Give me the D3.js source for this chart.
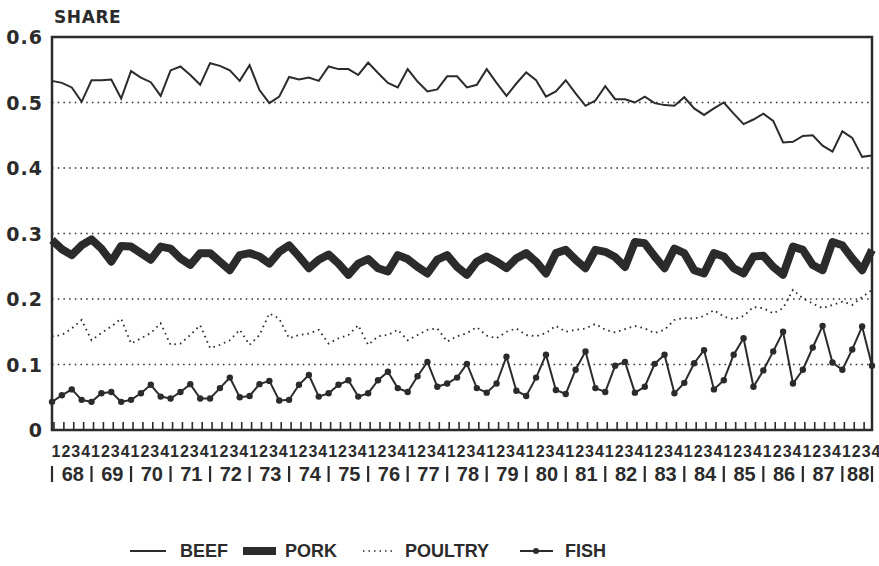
<!DOCTYPE html>
<html>
<head>
<meta charset="utf-8">
<script src="https://cdn.jsdelivr.net/npm/d3@7"></script>
<style>
  body { margin: 0; background: #fff; }
  text { font-family: "Liberation Sans", Arial, sans-serif; font-weight: bold; fill: #2b2b2b; }
  .wide { font-family: "DejaVu Sans", sans-serif; }
</style>
</head>
<body>
<div id="chart"></div>
<script>
// quarterly shares, 1968 Q1 .. 1988 Q4
var years = ["68","69","70","71","72","73","74","75","76","77","78","79","80","81","82","83","84","85","86","87","88"];
var quarters = ["1","2","3","4"];
var yTicks = [0, 0.1, 0.2, 0.3, 0.4, 0.5, 0.6];

var beef = [0.533,0.530,0.523,0.501, 0.534,0.534,0.535,0.506, 0.548,0.538,0.531,0.510,
  0.549,0.555,0.542,0.527, 0.560,0.556,0.549,0.533, 0.557,0.519,0.499,0.509,
  0.539,0.535,0.538,0.533, 0.555,0.551,0.551,0.542, 0.561,0.545,0.530,0.523,
  0.551,0.532,0.517,0.520, 0.540,0.540,0.523,0.527, 0.551,0.530,0.510,0.529,
  0.546,0.534,0.509,0.517, 0.534,0.514,0.495,0.503, 0.525,0.505,0.505,0.500,
  0.509,0.499,0.496,0.495, 0.508,0.491,0.481,0.491, 0.500,0.483,0.467,0.474,
  0.483,0.472,0.439,0.440, 0.449,0.450,0.434,0.425, 0.456,0.446,0.417,0.419];

var pork = [0.290,0.276,0.267,0.282, 0.291,0.277,0.257,0.281, 0.280,0.270,0.260,0.280,
  0.277,0.262,0.252,0.270, 0.270,0.257,0.244,0.267, 0.270,0.265,0.254,0.272,
  0.282,0.265,0.247,0.260, 0.268,0.254,0.237,0.254, 0.261,0.247,0.242,0.267,
  0.261,0.249,0.239,0.260, 0.267,0.249,0.237,0.257, 0.265,0.257,0.247,0.262,
  0.270,0.257,0.239,0.270, 0.275,0.260,0.247,0.275, 0.272,0.264,0.249,0.287,
  0.285,0.265,0.247,0.277, 0.270,0.244,0.239,0.270, 0.265,0.247,0.239,0.265,
  0.266,0.249,0.237,0.280, 0.275,0.252,0.244,0.287, 0.282,0.262,0.244,0.275];

var poultry = [0.143,0.145,0.155,0.168, 0.137,0.148,0.158,0.170, 0.132,0.140,0.148,0.163,
  0.130,0.132,0.145,0.160, 0.125,0.130,0.137,0.153, 0.130,0.145,0.178,0.170,
  0.140,0.145,0.147,0.153, 0.132,0.140,0.145,0.160, 0.130,0.143,0.145,0.153,
  0.137,0.145,0.153,0.155, 0.135,0.143,0.148,0.157, 0.144,0.140,0.150,0.155,
  0.145,0.143,0.148,0.159, 0.150,0.153,0.155,0.162, 0.153,0.149,0.154,0.159,
  0.155,0.148,0.153,0.168, 0.171,0.170,0.174,0.183, 0.173,0.169,0.174,0.188,
  0.186,0.178,0.186,0.214, 0.201,0.193,0.186,0.191, 0.196,0.191,0.203,0.214];

var fish = [0.043,0.053,0.062,0.046, 0.043,0.056,0.058,0.043, 0.046,0.056,0.069,0.051,
  0.048,0.058,0.070,0.048, 0.048,0.064,0.080,0.050, 0.052,0.070,0.075,0.045,
  0.046,0.069,0.084,0.051, 0.056,0.069,0.076,0.051, 0.056,0.076,0.089,0.064,
  0.058,0.082,0.104,0.066, 0.071,0.080,0.101,0.064, 0.057,0.071,0.112,0.060,
  0.052,0.080,0.115,0.061, 0.055,0.092,0.120,0.064, 0.058,0.098,0.104,0.057,
  0.066,0.101,0.115,0.056, 0.072,0.102,0.122,0.062, 0.076,0.115,0.140,0.066,
  0.091,0.120,0.150,0.071, 0.092,0.126,0.159,0.103, 0.092,0.123,0.158,0.098];

var ink = "#2b2b2b";
var w = 879, h = 566;
var plotL = 52, plotR = 872, plotT = 37, plotB = 430;

var svg = d3.select("#chart").append("svg")
  .attr("width", w)
  .attr("height", h);

var n = years.length * quarters.length;
var x = d3.scaleLinear().domain([0, n - 1]).range([plotL, plotR]);
var y = d3.scaleLinear().domain([0, 0.6]).range([plotB, plotT]);

// dotted grid
svg.append("g").selectAll("line")
  .data(yTicks.filter(d => d > 0 && d < 0.6))
  .enter().append("line")
  .attr("x1", plotL).attr("x2", plotR)
  .attr("y1", d => y(d)).attr("y2", d => y(d))
  .attr("stroke", ink).attr("stroke-width", 1.6)
  .attr("stroke-dasharray", "1.5,4.2");

// y labels
svg.append("g").selectAll("text")
  .data(yTicks)
  .enter().append("text")
  .attr("class", "wide")
  .attr("x", 43)
  .attr("y", d => y(d))
  .attr("dy", "0.37em")
  .attr("text-anchor", "end")
  .style("font-size", "19px")
  .style("letter-spacing", "1px")
  .text(d => d === 0 ? "0" : d3.format(".1f")(d));

svg.append("text")
  .attr("class", "wide")
  .attr("x", 54).attr("y", 23)
  .style("font-size", "17px")
  .style("letter-spacing", "0.6px")
  .text("SHARE");

// quarter ticks
svg.append("g").selectAll("line")
  .data(d3.range(n - 1))
  .enter().append("line")
  .attr("x1", d => x(d) + 2).attr("x2", d => x(d) + 2)
  .attr("y1", plotB).attr("y2", plotB - 8)
  .attr("stroke", ink).attr("stroke-width", 1.6);

// frame
svg.append("rect")
  .attr("x", plotL).attr("y", plotT)
  .attr("width", plotR - plotL).attr("height", plotB - plotT)
  .attr("fill", "none").attr("stroke", ink).attr("stroke-width", 2.5);

// quarter digits
var qlab = [];
years.forEach((yr, k) => quarters.forEach((q, j) => qlab.push({ i: k * 4 + j, q: q })));
svg.append("g").selectAll("text")
  .data(qlab)
  .enter().append("text")
  .attr("x", d => x(d.i) + 4)
  .attr("y", 457)
  .attr("text-anchor", "middle")
  .style("font-size", "16px")
  .text(d => d.q);

// year labels and separators
var yg = svg.append("g");
yg.selectAll("text")
  .data(years)
  .enter().append("text")
  .attr("x", (d, k) => (x(k * 4) + Math.min(x(k * 4 + 4), plotR)) / 2 + 1)
  .attr("y", 481)
  .attr("text-anchor", "middle")
  .style("font-size", "20px")
  .text(d => d);
yg.selectAll("line")
  .data(d3.range(years.length + 1))
  .enter().append("line")
  .attr("x1", k => Math.min(x(k * 4), plotR)).attr("x2", k => Math.min(x(k * 4), plotR))
  .attr("y1", 466).attr("y2", 482)
  .attr("stroke", ink).attr("stroke-width", 2.2);

var line = d3.line().x((d, i) => x(i)).y(d => y(d));

svg.append("path").datum(poultry)
  .attr("d", line).attr("fill", "none")
  .attr("stroke", ink).attr("stroke-width", 1.8)
  .attr("stroke-dasharray", "1.6,4");

svg.append("path").datum(pork)
  .attr("d", line).attr("fill", "none")
  .attr("stroke", ink).attr("stroke-width", 8)
  .attr("stroke-linejoin", "round");

svg.append("path").datum(beef)
  .attr("d", line).attr("fill", "none")
  .attr("stroke", ink).attr("stroke-width", 2);

svg.append("path").datum(fish)
  .attr("d", line).attr("fill", "none")
  .attr("stroke", ink).attr("stroke-width", 2);
svg.append("g").selectAll("circle")
  .data(fish)
  .enter().append("circle")
  .attr("cx", (d, i) => x(i)).attr("cy", d => y(d))
  .attr("r", 3.2).attr("fill", ink);

// legend
var ly = 551;
var lg = svg.append("g");
lg.append("line").attr("x1", 130).attr("x2", 166).attr("y1", ly).attr("y2", ly)
  .attr("stroke", ink).attr("stroke-width", 1.8);
lg.append("line").attr("x1", 243).attr("x2", 276).attr("y1", ly).attr("y2", ly)
  .attr("stroke", ink).attr("stroke-width", 8);
lg.append("line").attr("x1", 363).attr("x2", 393).attr("y1", ly).attr("y2", ly)
  .attr("stroke", ink).attr("stroke-width", 1.5).attr("stroke-dasharray", "1.5,4");
lg.append("line").attr("x1", 520).attr("x2", 553).attr("y1", ly).attr("y2", ly)
  .attr("stroke", ink).attr("stroke-width", 1.8);
lg.append("circle").attr("cx", 536).attr("cy", ly).attr("r", 3).attr("fill", ink);

var legendText = [["BEEF", 180], ["PORK", 285], ["POULTRY", 405], ["FISH", 565]];
lg.selectAll("text")
  .data(legendText)
  .enter().append("text")
  .attr("x", d => d[1]).attr("y", ly)
  .attr("dy", "0.36em")
  .style("font-size", "18px")
  .text(d => d[0]);
</script>
</body>
</html>
